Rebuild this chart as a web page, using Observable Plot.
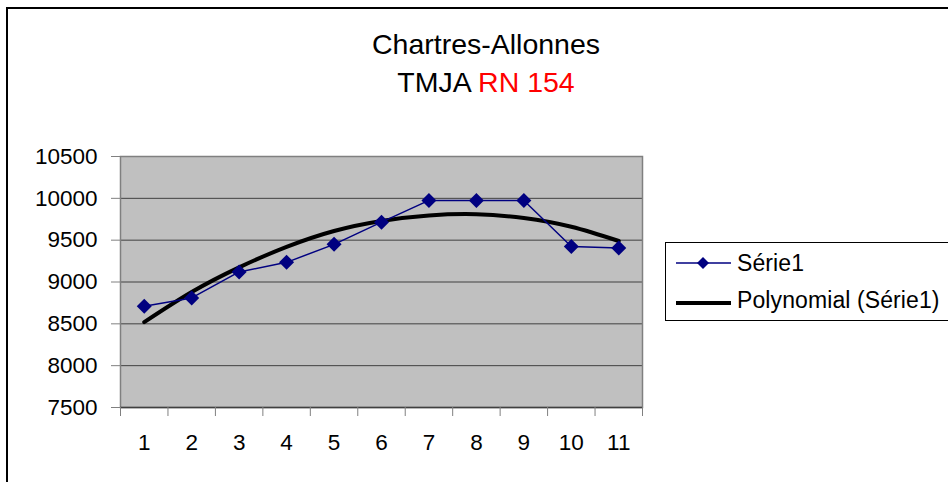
<!DOCTYPE html>
<html>
<head>
<meta charset="utf-8">
<script src="https://cdn.jsdelivr.net/npm/d3@7"></script>
<script src="https://cdn.jsdelivr.net/npm/@observablehq/plot@0.6"></script>
<style>
  html, body { margin: 0; padding: 0; background: #fff; }
  #wrap { position: relative; width: 948px; height: 482px; overflow: hidden; font-family: "Liberation Sans", Arial, sans-serif; }
  #border { position: absolute; left: 6px; top: 7px; width: 1100px; height: 700px; border: 2px solid #000; box-sizing: border-box; }
  #chart { position: absolute; left: 0; top: 0; }
  #title { position: absolute; left: 486px; top: 25px; transform: translateX(-50%); font-size: 28.5px; line-height: 38px; text-align: center; white-space: nowrap; color: #000; }
  #title .red { color: #ff0000; }
  #legend { position: absolute; left: 665px; top: 242px; width: 400px; height: 79px; border: 1px solid #000; background: #fff; box-sizing: border-box; }
  .lg-text { position: absolute; left: 71px; font-size: 23px; letter-spacing: 0.1px; line-height: 30px; white-space: nowrap; color: #000; }
  .lg-sw { position: absolute; left: 9px; }
</style>
</head>
<body>
<div id="wrap">
  <div id="border"></div>
  <div id="chart"></div>
  <div id="title">Chartres-Allonnes<br>TMJA <span class="red">RN 154</span></div>
  <div id="legend"></div>
</div>
<script>
// ---- data ----
const categories = [1, 2, 3, 4, 5, 6, 7, 8, 9, 10, 11];
const serie1 = [8710, 8810, 9120, 9235, 9450, 9715, 9975, 9975, 9975, 9425, 9405];
const trend = [8520, 8880, 9175, 9420, 9610, 9730, 9795, 9810, 9765, 9660, 9490];
const yTicks = [7500, 8000, 8500, 9000, 9500, 10000, 10500];
const seriesNames = ["Série1", "Polynomial (Série1)"];
const seriesColors = ["#000080", "#000000"];

const rows = categories.map((c, i) => ({cat: c, s: serie1[i], t: trend[i]}));
const boundaries = [...categories.map(c => c - 0.5), categories[categories.length - 1] + 0.5];

const diamond = {
  draw(ctx, size) {
    const h = Math.sqrt(size / Math.PI) * 1.25;
    ctx.moveTo(0, -h); ctx.lineTo(h, 0); ctx.lineTo(0, h); ctx.lineTo(-h, 0); ctx.closePath();
  }
};

const chart = Plot.plot({
  width: 948,
  height: 482,
  marginLeft: 120,
  marginRight: 306,
  marginTop: 156,
  marginBottom: 75,
  style: {fontFamily: '"Liberation Sans", Arial, sans-serif', fontSize: "22.5px", background: "transparent", color: "#000"},
  x: {type: "linear", domain: [boundaries[0], boundaries[boundaries.length - 1]]},
  y: {domain: [yTicks[0], yTicks[yTicks.length - 1]]},
  marks: [
    Plot.frame({fill: "#c0c0c0", stroke: null}),
    Plot.gridY({ticks: yTicks.slice(1, -1), stroke: "#404040", strokeOpacity: 1, strokeWidth: 1}),
    Plot.frame({stroke: "#808080", strokeWidth: 1.5}),
    Plot.ruleY([yTicks[0]], {stroke: "#404040", strokeWidth: 1.5}),
    Plot.axisY({ticks: yTicks, tickSize: 9, tickPadding: 14, stroke: "#808080", fill: "#000", label: null, tickFormat: d => String(d), letterSpacing: "0.8px"}),
    Plot.axisX({ticks: boundaries, tickSize: 9, tickFormat: () => "", stroke: "#808080", label: null}),
    Plot.axisX({ticks: categories, tickSize: 0, tickPadding: 27, tickFormat: d => String(d), fill: "#000", label: null}),
    Plot.line(rows, {x: "cat", y: "t", curve: "natural", stroke: seriesColors[1], strokeWidth: 4}),
    Plot.line(rows, {x: "cat", y: "s", stroke: seriesColors[0], strokeWidth: 1.5}),
    Plot.dot(rows, {x: "cat", y: "s", symbol: diamond, r: 6, fill: seriesColors[0], stroke: null})
  ]
});
document.getElementById("chart").appendChild(chart);

// ---- legend ----
const legend = document.getElementById("legend");
const entries = [
  {name: seriesNames[0], color: seriesColors[0], width: 1.5, marker: true, cy: 20, textTop: 4.5},
  {name: seriesNames[1], color: seriesColors[1], width: 4, marker: false, cy: 60, textTop: 42}
];
entries.forEach(e => {
  const sw = document.createElementNS("http://www.w3.org/2000/svg", "svg");
  sw.setAttribute("width", 58); sw.setAttribute("height", 20);
  sw.setAttribute("class", "lg-sw");
  sw.style.top = (e.cy - 10) + "px";
  const ln = document.createElementNS("http://www.w3.org/2000/svg", "line");
  ln.setAttribute("x1", 1); ln.setAttribute("x2", 56); ln.setAttribute("y1", 10); ln.setAttribute("y2", 10);
  ln.setAttribute("stroke", e.color); ln.setAttribute("stroke-width", e.width);
  sw.appendChild(ln);
  if (e.marker) {
    const p = document.createElementNS("http://www.w3.org/2000/svg", "path");
    p.setAttribute("d", "M28,4L34,10L28,16L22,10Z");
    p.setAttribute("fill", e.color);
    sw.appendChild(p);
  }
  legend.appendChild(sw);
  const t = document.createElement("div");
  t.className = "lg-text";
  t.style.top = e.textTop + "px";
  t.textContent = e.name;
  legend.appendChild(t);
});
</script>
</body>
</html>
